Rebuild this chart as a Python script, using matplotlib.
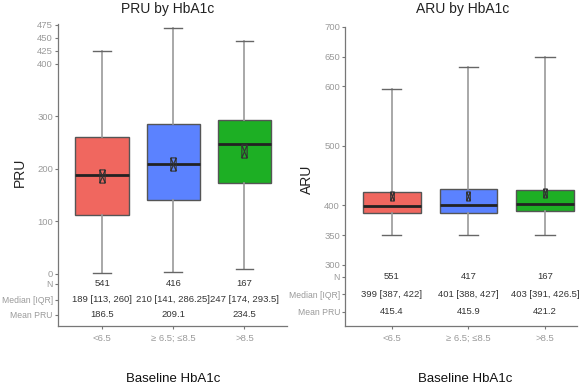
import matplotlib
matplotlib.use("Agg")
import matplotlib.pyplot as plt
from matplotlib.path import Path

plt.rcParams['font.family'] = ['Liberation Sans', 'DejaVu Sans']

# Categories and colours
groups = ['<6.5', '\u2265 6.5; \u22648.5', '>8.5']
box_colors = ['#F0675F', '#5B82FF', '#1DAF24']

# PRU box stats
pru_n = [541, 416, 167]
pru_med = [189, 210, 247]
pru_q1 = [113, 141, 174]
pru_q3 = [260, 286.25, 293.5]
pru_lo = [2, 4, 9]
pru_hi = [425, 468, 444]
pru_mean = [186.5, 209.1, 234.5]
pru_iqr_txt = ['189 [113, 260]', '210 [141, 286.25]', '247 [174, 293.5]']

# ARU box stats
aru_n = [551, 417, 167]
aru_med = [399, 401, 403]
aru_q1 = [387, 388, 391]
aru_q3 = [422, 427, 426.5]
aru_lo = [350, 350, 350]
aru_hi = [596, 633, 650]
aru_mean = [415.4, 415.9, 421.2]
aru_iqr_txt = ['399 [387, 422]', '401 [388, 427]', '403 [391, 426.5]']

row_names = ['N', 'Median [IQR]', 'Mean PRU']

# hourglass-in-a-box marker for the mean
mean_marker = Path(
    [(-0.4, -1), (0.4, -1), (0.4, 1), (-0.4, 1), (-0.4, -1),
     (-0.4, 1), (0.4, -1), (-0.4, -1), (0.4, 1)],
    [Path.MOVETO, Path.LINETO, Path.LINETO, Path.LINETO, Path.CLOSEPOLY,
     Path.MOVETO, Path.LINETO, Path.MOVETO, Path.LINETO])

grey_txt = '#9a9a9a'
dark_txt = '#333333'


def draw_panel(ax, ylab, n, med, q1, q3, lo, hi, mean, iqr_txt,
               yticks, ylim, row_y, xlim, msize, ylab_xy):
    stats = []
    for i in range(len(groups)):
        stats.append(dict(med=med[i], q1=q1[i], q3=q3[i],
                          whislo=lo[i], whishi=hi[i], fliers=[]))
    pos = list(range(len(groups)))
    bp = ax.bxp(stats, positions=pos, widths=0.75, patch_artist=True,
                showfliers=False,
                boxprops=dict(edgecolor='#555555', linewidth=1.0),
                whiskerprops=dict(color='#9a9a9a', linewidth=1.2),
                capprops=dict(color='#666666', linewidth=1.0),
                medianprops=dict(color='#222222', linewidth=2.0))
    for patch, c in zip(bp['boxes'], box_colors):
        patch.set_facecolor(c)
    for cap in bp['caps']:
        x0, x1 = cap.get_xdata()
        xc = (x0 + x1) / 2
        cap.set_xdata([xc - 0.125, xc + 0.125])
    ax.plot(pos, mean, linestyle='none', marker=mean_marker, markersize=msize,
            markerfacecolor='none', markeredgecolor='#333333',
            markeredgewidth=0.8, zorder=5)

    # table rows under the plot
    for i in pos:
        ax.text(i, row_y[0], str(n[i]), ha='center', va='center',
                fontsize=6.8, color=dark_txt)
        ax.text(i, row_y[1], iqr_txt[i], ha='center', va='center',
                fontsize=6.8, color=dark_txt)
        ax.text(i, row_y[2], '%.1f' % mean[i], ha='center', va='center',
                fontsize=6.8, color=dark_txt)

    ax.set_yticks(list(yticks) + list(row_y))
    ax.set_yticklabels([str(t) for t in yticks] + row_names)
    ax.set_ylim(*ylim)
    ax.set_xlim(*xlim)
    ax.set_xticks(pos)
    ax.set_xticklabels(groups)
    ax.tick_params(axis='both', colors='#777777', labelcolor=grey_txt,
                   labelsize=6.8, length=2.5, width=0.8, pad=1.2)
    ax.tick_params(axis='x', pad=3.5)
    # row names are a bit smaller so "Median [IQR]" fits at the left edge
    for lab in ax.get_yticklabels()[len(yticks):]:
        lab.set_fontsize(6.2)
    for s in ['top', 'right']:
        ax.spines[s].set_visible(False)
    for s in ['left', 'bottom']:
        ax.spines[s].set_color('#777777')
        ax.spines[s].set_linewidth(0.9)
    ax.set_ylabel(ylab, fontsize=10, color='#222222')
    ax.yaxis.set_label_coords(*ylab_xy)


fig = plt.figure(figsize=(5.83, 3.88), dpi=100)
ax1 = fig.add_axes([0.0995, 0.160, 0.393, 0.778])
ax2 = fig.add_axes([0.592, 0.160, 0.398, 0.771])

draw_panel(ax1, 'PRU', pru_n, pru_med, pru_q1, pru_q3,
           pru_lo, pru_hi, pru_mean, pru_iqr_txt,
           [0, 100, 200, 300, 400, 425, 450, 475], (-99, 476),
           [-19, -49.5, -78], (-0.62, 2.6), 9.5, (-0.135, 0.51))
draw_panel(ax2, 'ARU', aru_n, aru_med, aru_q1, aru_q3,
           aru_lo, aru_hi, aru_mean, aru_iqr_txt,
           [300, 350, 400, 500, 600, 650, 700], (197.5, 700),
           [280, 251, 221], (-0.61, 2.42), 6.5, (-0.134, 0.49))

# titles and x labels placed in figure pixels
W, H = 583.0, 388.0
fig.text(168 / W, 1 - 9 / H, 'PRU by HbA1c', ha='center', va='center',
         fontsize=10, color='#222222')
fig.text(463 / W, 1 - 9 / H, 'ARU by HbA1c', ha='center', va='center',
         fontsize=10, color='#222222')
fig.text(173 / W, 1 - 379 / H, 'Baseline HbA1c', ha='center', va='center',
         fontsize=9.5, color='#111111')
fig.text(465 / W, 1 - 379 / H, 'Baseline HbA1c', ha='center', va='center',
         fontsize=9.5, color='#111111')

fig.savefig('out.png', dpi=100)
